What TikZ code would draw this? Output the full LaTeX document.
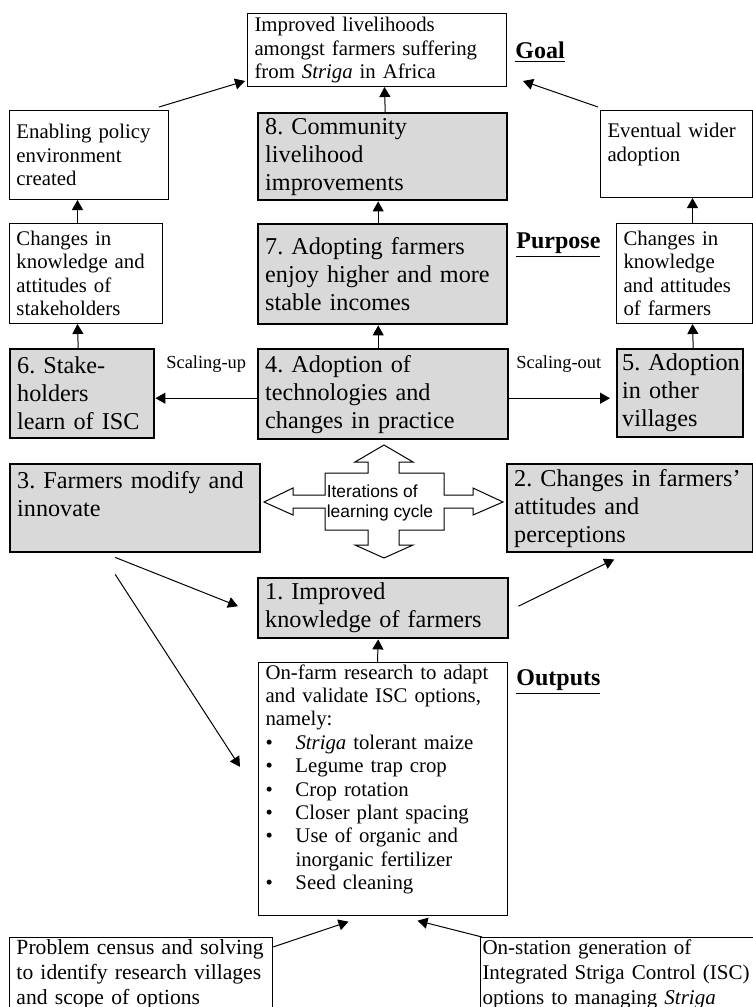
\documentclass[tikz,border=0pt]{standalone}
\usepackage{fontspec}
\setmainfont{Liberation Serif}
\setsansfont{Liberation Sans}
\usetikzlibrary{arrows.meta}

\definecolor{boxgray}{RGB}{217,217,217}
\newcommand{\itembul}{\makebox[15pt][l]{\textbullet}}
\frenchspacing
\hyphenpenalty=10000
\exhyphenpenalty=10000

\tikzset{
	graybox/.style={draw, line width=1.2pt, fill=boxgray, anchor=north west, align=left,
		inner xsep=3.5pt, inner ysep=1pt, font=\fontsize{12.1}{14}\selectfont},
	plainbox/.style={draw, line width=0.5pt, fill=white, anchor=north west, align=left,
		inner xsep=3.5pt, inner ysep=1pt, font=\fontsize{10.4}{11.7}\selectfont},
	bigbox/.style={plainbox, font=\fontsize{10.8}{12.5}\selectfont},
	level/.style={anchor=base west, inner sep=0pt, font=\fontsize{12}{14}\selectfont\bfseries},
	scaling/.style={anchor=base west, inner sep=0pt, font=\fontsize{9.2}{11}\selectfont},
	flow/.style={-{Triangle[length=5pt, width=5.5pt]}, line width=0.5pt},
}

\begin{document}
\begin{tikzpicture}[x=0.5pt, y=-0.5pt]
	\useasboundingbox (0,0) rectangle (753,1007);
	\fill [white] (0,0) rectangle (753,1007);

	% centre column
	\node [plainbox, text width=122.5pt, minimum height=36.5pt] (goal) at (247,13)
		{Improved livelihoods\\amongst farmers suffering\\from \textit{Striga} in Africa};
	\node [graybox, text width=117.5pt, minimum height=43.5pt] (b8) at (257,112)
		{8. Community\\livelihood\\improvements};
	\node [graybox, text width=117.5pt, minimum height=50pt] (b7) at (257,223)
		{7. Adopting farmers\\enjoy higher and more\\stable incomes};
	\node [graybox, text width=118pt, minimum height=45pt] (b4) at (257,348)
		{4. Adoption of\\technologies and\\changes in practice};
	\node [graybox, text width=118pt, minimum height=30pt] (b1) at (257,577)
		{1. Improved\\knowledge of farmers};
	\node [plainbox, text width=117.5pt, minimum height=125pt] (research) at (258,662)
		{On-farm research to adapt\\and validate ISC options,\\namely:\\
		\itembul\textit{Striga} tolerant maize\\\itembul Legume trap crop\\
		\itembul Crop rotation\\\itembul Closer plant spacing\\
		\itembul Use of organic and\\\hspace*{15pt}inorganic fertilizer\\
		\itembul Seed cleaning\\\mbox{}};

	% left column
	\node [plainbox, text width=72.5pt, minimum height=44.5pt] (policy) at (9,110)
		{Enabling policy\\environment\\created};
	\node [plainbox, text width=69.5pt, minimum height=50pt] (stake) at (9,223)
		{Changes in\\knowledge~and\\attitudes of\\stakeholders};
	\node [graybox, text width=65pt, minimum height=44.5pt] (b6) at (9,348)
		{6. Stake-\\holders\\learn of ISC};
	\node [graybox, text width=118pt, minimum height=44pt] (b3) at (9,463)
		{3. Farmers modify and\\innovate\\\mbox{}};

	% right column
	\node [plainbox, text width=69pt, minimum height=43.5pt] (wider) at (600,110)
		{Eventual wider\\adoption\\\mbox{}};
	\node [plainbox, text width=61pt, minimum height=50pt] (farmk) at (616,223)
		{Changes in\\knowledge\\and attitudes\\of farmers};
	\node [graybox, inner xsep=2.5pt, text width=58pt, minimum height=44pt] (b5) at (616,348)
		{5.~Adoption\\in other\\villages};
	\node [graybox, text width=116pt, minimum height=44pt] (b2) at (506,463)
		{2. Changes in farmers'\\attitudes and\\perceptions};

	% bottom
	\node [bigbox, text width=124.5pt, minimum height=37pt] (census) at (9,937)
		{Problem census and solving\\to identify research villages\\and scope of options};
	\node [bigbox, font=\fontsize{10.5}{12.5}\selectfont, inner xsep=1pt, text width=149pt,
		minimum height=37pt] (station) at (480,937)
		{On-station generation of\\Integrated Striga Control (ISC)\\options to managing \textit{Striga}};

	% levels
	\node [level] (goalhead) at (515,58) {\underline{Goal}};
	\node [level] (purposehead) at (516,248) {\underline{Purpose}};
	\node [level] (outputshead) at (516,685) {\underline{Outputs}};
	\node [scaling] (scaleup) at (166,368) {Scaling-up};
	\node [scaling] (scaleout) at (516,368) {Scaling-out};

	% learning cycle
	\draw [line width=0.5pt, fill=white] (264,502) -- (293,488) -- (293,495) -- (325,495)
		-- (325,473) -- (368,473) -- (368,462) -- (355,462) -- (384,445) -- (413,462)
		-- (399,462) -- (399,473) -- (444,473) -- (444,495) -- (473,495) -- (473,488)
		-- (503,502) -- (473,515) -- (473,508) -- (444,508) -- (444,530) -- (399,530)
		-- (399,545) -- (413,545) -- (384,558) -- (355,545) -- (368,545) -- (368,530)
		-- (325,530) -- (325,508) -- (293,508) -- (293,515) -- cycle;
	\node [align=left, inner sep=0pt, font=\sffamily\fontsize{8.7}{10}\selectfont] (loop) at (380,503)
		{Iterations of\\learning cycle};

	% arrows
	\draw [flow] ([xshift=1.25pt]b8.north) -- ([xshift=3.75pt]goal.south);
	\draw [flow] ([xshift=-2.25pt]b7.north) -- ([xshift=-2.25pt]b8.south);
	\draw [flow] ([xshift=-2.5pt]b4.north) -- ([xshift=-2.25pt]b7.south);
	\draw [flow] ([xshift=-2.75pt]research.north) -- ([xshift=-2.5pt]b1.south);
	\draw [flow] ([xshift=-2pt]b6.north) -- ([xshift=-4.25pt]stake.south);
	\draw [flow] ([xshift=-4.25pt]stake.north) -- ([xshift=-5.75pt]policy.south);
	\draw [flow] ([xshift=6.5pt]b5.north) -- ([xshift=4pt]farmk.south);
	\draw [flow] ([xshift=4pt]farmk.north) -- ([xshift=8pt]wider.south);
	\draw [flow] ([yshift=-2pt]b4.west) -- ([yshift=-2.25pt]b6.east);
	\draw [flow] ([yshift=-2pt]b4.east) -- ([xshift=-3pt,yshift=-2.5pt]b5.west);
	\draw [flow] ([xshift=-5pt,yshift=1.5pt]policy.north east) -- ([xshift=-1pt,yshift=3pt]goal.south west);
	\draw [flow] ([xshift=-1pt,yshift=1.5pt]wider.north west) -- ([xshift=8pt,yshift=3pt]goal.south east);
	\draw [flow] ([xshift=-10pt,yshift=-2pt]b3.south) -- ([xshift=-9.5pt,yshift=1pt]b1.west);
	\draw [flow] ([xshift=-10pt,yshift=-10.5pt]b3.south) -- ([xshift=-9pt,yshift=11pt]research.west);
	\draw [flow] ([xshift=4.5pt,yshift=1pt]b1.east) -- ([xshift=-8pt,yshift=-3pt]b2.south);
	\draw [flow] ([yshift=-5pt]census.north east) -- ([xshift=-17.25pt,yshift=-3pt]research.south);
	\draw [flow] ([xshift=1pt]station.north west) -- ([xshift=17.25pt,yshift=-2.5pt]research.south);
\end{tikzpicture}
\end{document}
